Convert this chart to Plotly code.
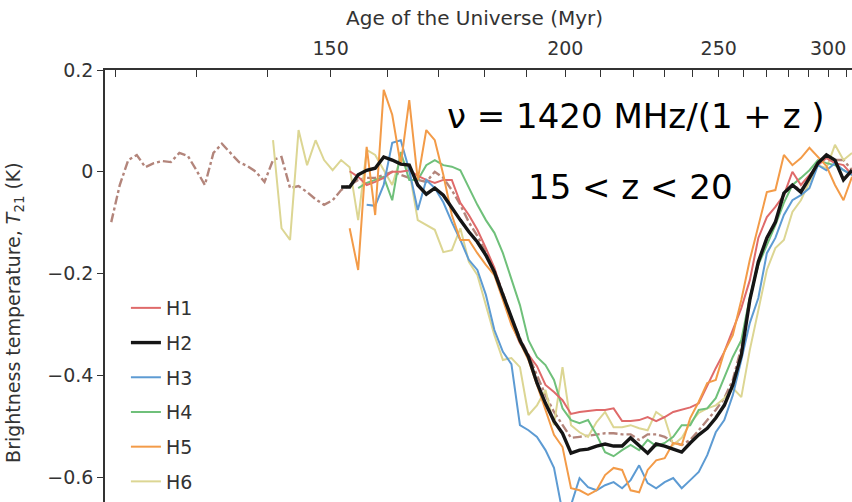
import plotly.graph_objects as go

# Redshift of each spectral channel; every series ends at the last channel (z = 13.5)
Z = [26.55, 26.40, 26.25, 26.10, 25.95, 25.80, 25.65, 25.50, 25.35, 25.20,
     25.05, 24.90, 24.75, 24.60, 24.45, 24.30, 24.15, 24.00, 23.85, 23.70,
     23.55, 23.40, 23.25, 23.10, 22.95, 22.80, 22.65, 22.50, 22.35, 22.20,
     22.05, 21.90, 21.75, 21.60, 21.45, 21.30, 21.15, 21.00, 20.85, 20.70,
     20.55, 20.40, 20.25, 20.10, 19.95, 19.80, 19.65, 19.50, 19.35, 19.20,
     19.05, 18.90, 18.75, 18.60, 18.45, 18.30, 18.15, 18.00, 17.85, 17.70,
     17.55, 17.40, 17.25, 17.10, 16.95, 16.80, 16.65, 16.50, 16.35, 16.20,
     16.05, 15.90, 15.75, 15.60, 15.45, 15.30, 15.15, 15.00, 14.85, 14.70,
     14.55, 14.40, 14.25, 14.10, 13.95, 13.80, 13.65, 13.50]

# Brightness temperature T21 (K) per hardware case
H1 = [0.001, -0.010, -0.026, -0.020, -0.012, -0.000, -0.000, 0.003, -0.008, -0.016,
      -0.022, -0.016, -0.016, -0.061, -0.085, -0.114, -0.150, -0.189, -0.242, -0.297,
      -0.337, -0.360, -0.382, -0.419, -0.433, -0.449, -0.476, -0.472, -0.470, -0.468,
      -0.468, -0.465, -0.490, -0.490, -0.488, -0.482, -0.490, -0.482, -0.472, -0.468,
      -0.463, -0.455, -0.419, -0.386, -0.354, -0.311, -0.268, -0.213, -0.130, -0.089,
      -0.069, -0.046, 0.000, -0.026, -0.006, 0.013, 0.027, 0.017, 0.013, -0.006]

H2 = [-0.030, -0.030, -0.006, 0.003, 0.007, 0.029, 0.023, 0.015, 0.013, -0.026,
      -0.044, -0.032, -0.046, -0.071, -0.095, -0.118, -0.138, -0.164, -0.197, -0.242,
      -0.287, -0.331, -0.364, -0.415, -0.455, -0.490, -0.514, -0.553, -0.547, -0.545,
      -0.539, -0.535, -0.539, -0.539, -0.523, -0.539, -0.553, -0.535, -0.539, -0.545,
      -0.551, -0.533, -0.517, -0.504, -0.484, -0.459, -0.419, -0.360, -0.252, -0.177,
      -0.130, -0.099, -0.042, -0.026, -0.040, -0.012, 0.017, 0.033, 0.023, -0.016,
      0.003]

H3 = [-0.065, -0.067, -0.026, 0.057, 0.062, 0.003, -0.075, -0.016, -0.032, -0.060,
      -0.099, -0.134, -0.173, -0.193, -0.242, -0.311, -0.354, -0.378, -0.498, -0.508,
      -0.521, -0.547, -0.582, -0.669, -0.655, -0.602, -0.620, -0.626, -0.616, -0.610,
      -0.622, -0.606, -0.577, -0.612, -0.622, -0.610, -0.602, -0.622, -0.606, -0.590,
      -0.557, -0.512, -0.488, -0.439, -0.370, -0.297, -0.248, -0.160, -0.130, -0.085,
      -0.056, -0.046, -0.032, 0.013, 0.003, 0.017, 0.003, -0.006]

H4 = [-0.032, -0.022, -0.016, -0.010, -0.056, 0.039, -0.016, -0.016, 0.013, 0.023,
      0.013, 0.010, 0.003, -0.032, -0.065, -0.095, -0.120, -0.160, -0.209, -0.262,
      -0.331, -0.364, -0.380, -0.409, -0.465, -0.488, -0.494, -0.488, -0.517, -0.551,
      -0.559, -0.547, -0.537, -0.547, -0.527, -0.539, -0.533, -0.521, -0.498, -0.498,
      -0.468, -0.465, -0.445, -0.405, -0.364, -0.331, -0.246, -0.183, -0.144, -0.105,
      -0.061, -0.026, -0.012, 0.003, 0.023, 0.017, 0.013, 0.003, -0.006]

H5 = [-0.111, -0.193, 0.049, -0.085, 0.161, 0.112, 0.013, 0.141, -0.016, 0.082,
      0.062, -0.006, -0.085, -0.134, -0.134, -0.160, -0.183, -0.203, -0.252, -0.301,
      -0.335, -0.370, -0.419, -0.468, -0.517, -0.541, -0.622, -0.626, -0.635, -0.626,
      -0.596, -0.582, -0.586, -0.626, -0.630, -0.586, -0.567, -0.563, -0.533, -0.537,
      -0.484, -0.452, -0.415, -0.409, -0.354, -0.321, -0.252, -0.173, -0.105, -0.040,
      -0.036, 0.033, 0.013, 0.027, 0.047, 0.029, 0.011, -0.026, -0.056, -0.010]

H6 = [0.062, -0.111, -0.134, 0.082, 0.013, 0.062, 0.023, 0.003, 0.023, 0.009,
      -0.095, 0.043, 0.033, 0.003, -0.026, 0.029, 0.003, -0.095, -0.105, -0.114,
      -0.158, -0.154, -0.111, -0.177, -0.203, -0.262, -0.321, -0.370, -0.366, -0.384,
      -0.478, -0.459, -0.429, -0.498, -0.384, -0.498, -0.512, -0.521, -0.492, -0.472,
      -0.502, -0.502, -0.498, -0.504, -0.508, -0.472, -0.484, -0.537, -0.523, -0.494,
      -0.474, -0.465, -0.459, -0.445, -0.425, -0.443, -0.350, -0.272, -0.193, -0.150,
      -0.134, -0.079, -0.056, -0.020, 0.013, 0.007, 0.053, 0.023, 0.037]

# Extended-band H2 profile (dash-dot)
H2_EXT = [-0.099, -0.026, 0.023, 0.033, 0.009, 0.017, 0.021, 0.019, 0.037, 0.031,
          0.003, -0.026, 0.037, 0.055, 0.037, 0.019, 0.011, -0.000, -0.020, 0.023,
          0.029, -0.032, -0.028, -0.040, -0.054, -0.065, -0.056, -0.036, -0.026, -0.016,
          -0.012, -0.012, -0.006, -0.000, -0.006, -0.012, -0.016, -0.020, -0.000, -0.012,
          -0.036, -0.065, -0.099, -0.126, -0.158, -0.193, -0.238, -0.287, -0.327, -0.360,
          -0.400, -0.439, -0.472, -0.498, -0.523, -0.521, -0.519, -0.516, -0.514, -0.514,
          -0.516, -0.516, -0.527, -0.516, -0.516, -0.521, -0.531, -0.537, -0.527, -0.508,
          -0.488, -0.468, -0.445, -0.409, -0.346, -0.252, -0.177, -0.130, -0.099, -0.046,
          -0.026, -0.036, -0.012, 0.017, 0.031, 0.023, 0.023, 0.003]

# Age-of-the-Universe axis labels (Myr)
AGE_MAJOR = [150, 200, 250, 300]
AGE_MINOR = [120, 130, 140, 160, 170, 180, 190, 210, 220, 230, 240,
             260, 270, 280, 290, 310]
AGE_SCALE_MYR = 17290.0  # matter-dominated: t = AGE_SCALE * (1 + z)^-1.5

Y_TICKS = [0.2, 0, -0.2, -0.4, -0.6]


def age_to_z(t_myr):
    return (AGE_SCALE_MYR / t_myr) ** (2.0 / 3.0) - 1.0


def zs_for(values):
    return Z[len(Z) - len(values):]


fig = go.Figure()

fig.add_trace(go.Scatter(
    x=zs_for(H2_EXT), y=H2_EXT, mode="lines", showlegend=False,
    line=dict(color="#b3857b", width=2.4, dash="dashdot")))

series = [
    ("H6", H6, "#dcd693", 2.0, 6),
    ("H4", H4, "#6fc07a", 2.0, 4),
    ("H1", H1, "#df6a6a", 2.0, 1),
    ("H3", H3, "#5d9bd3", 2.0, 3),
    ("H5", H5, "#f39b48", 2.0, 5),
    ("H2", H2, "#151515", 3.4, 2),
]
for name, vals, color, width, rank in series:
    fig.add_trace(go.Scatter(
        x=zs_for(vals), y=vals, mode="lines", name=name,
        legendgroup=name, legendrank=rank,
        line=dict(color=color, width=width)))

FAMILY = "DejaVu Sans, Arial, sans-serif"
tick_font = dict(family=FAMILY, size=19, color="#333333")
title_font = dict(family=FAMILY, size=20, color="#333333")
note_font = dict(family=FAMILY, size=34, color="#000000")

fig.update_layout(
    width=852, height=502,
    margin=dict(l=105, r=0, t=70, b=0, autoexpand=False),
    paper_bgcolor="white", plot_bgcolor="white",
    font=tick_font,
    showlegend=True,
    legend=dict(x=0.028, y=0.493, xanchor="left", yanchor="top",
                bgcolor="rgba(0,0,0,0)", tracegroupgap=7,
                font=dict(family=FAMILY, size=19, color="#333333")),
    xaxis=dict(
        side="top", range=[26.66, 13.50],
        tickmode="array", tickvals=[age_to_z(t) for t in AGE_MAJOR],
        ticktext=[str(t) for t in AGE_MAJOR],
        ticks="inside", ticklen=7, tickwidth=1.3, tickcolor="#333333",
        minor=dict(tickmode="array", tickvals=[age_to_z(t) for t in AGE_MINOR],
                   ticks="inside", ticklen=7, tickwidth=1.3, tickcolor="#333333"),
        showline=True, linecolor="#333333", linewidth=1.5,
        showgrid=False, zeroline=False, ticklabelstandoff=6,
        tickfont=tick_font),
    yaxis=dict(
        range=[-0.649, 0.2], tickmode="array", tickvals=Y_TICKS,
        ticktext=["0.2", "0", "\u22120.2", "\u22120.4", "\u22120.6"],
        ticks="outside", ticklen=6, tickwidth=1.3, tickcolor="#333333",
        showline=True, linecolor="#333333", linewidth=1.5,
        showgrid=False, zeroline=False, tickfont=tick_font),
)

fig.add_annotation(
    text="Age of the Universe (Myr)", xref="paper", yref="paper",
    x=0.495, y=1.12, xanchor="center", yanchor="middle", showarrow=False,
    font=title_font)

fig.add_annotation(
    text="Brightness temperature, <i>T</i><sub>21</sub> (K)",
    xref="paper", yref="paper", x=-0.1205, y=0.44, textangle=-90,
    xanchor="center", yanchor="middle", showarrow=False, font=tick_font)

fig.add_annotation(
    text="\u03bd = 1420 MHz/(1 + z )", xref="paper", yref="paper",
    x=(636 - 105) / 747, y=(502 - 116) / 432, xanchor="center", yanchor="middle",
    showarrow=False, font=note_font)

fig.add_annotation(
    text="15 < z < 20", xref="paper", yref="paper",
    x=(630 - 105) / 747, y=(502 - 187) / 432, xanchor="center", yanchor="middle",
    showarrow=False, font=note_font)

fig.write_html("out.html")
